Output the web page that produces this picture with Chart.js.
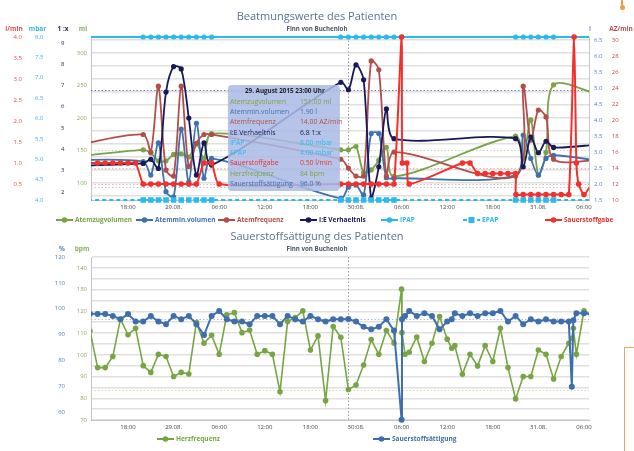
<!DOCTYPE html>
<html>
<head>
<meta charset="utf-8">
<title>Beatmungswerte des Patienten</title>
<script src="https://cdn.jsdelivr.net/npm/chart.js@4.4.1/dist/chart.umd.min.js"></script>
<style>
    body { margin: 0; background: #fff; }
    #wrap { position: relative; width: 634px; height: 451px; overflow: hidden; }
    canvas { position: absolute; left: 0; }
    #vent_chart { top: 0; }
    #sat_chart { top: 225px; }
    .deco_pin { position: absolute; left: 621px; top: 0; width: 1.5px; height: 6px; background: #f29a4a; }
    .deco_dot { position: absolute; left: 619.5px; top: 4.5px; width: 5px; height: 5px; border-radius: 50%; background: #f29a4a; }
    .deco_box { position: absolute; left: 624px; top: 347px; width: 40px; height: 140px; border: 1px solid #f2a560; }
</style>
</head>
<body>
<div id="wrap">
    <canvas id="vent_chart" width="634" height="225"></canvas>
    <canvas id="sat_chart" width="634" height="226"></canvas>
    <div class="deco_pin"></div>
    <div class="deco_dot"></div>
    <div class="deco_box"></div>
</div>
<script>
// Time axis: hours counted from 28.08.2015 00:00
var xMin = 13.13;
var xMax = 78.66;
var xTickHours = [18, 24, 30, 36, 42, 48, 54, 60, 66, 72, 78];
var xTickLabels = ["18:00", "29.08.", "06:00", "12:00", "18:00", "30:08.", "06:00", "12:00", "18:00", "31.08.", "06:00"];
var hoverHour = 47;

// Beatmungswerte
var ventHours = [10, 20, 21, 22, 23, 24, 25, 26, 27, 28, 29, 46, 47, 48, 49, 50, 51, 52, 53, 69, 70, 71, 72, 73, 74, 80];
var atemzugvolumen = [139, 151, 146, 134, 134, 144, 145, 140, 160, 138, 176, 151, 151, 156, 116, 120, 135, 155, 110, 172, 139, 197, 112, 147, 251, 236];
var atemminvolumen = [2.75, 2.7, 2.28, 3.29, 1.76, 1.6, 3.72, 2.07, 3.9, 2.18, 2.8, 1.55, 1.9, 1.97, 1.66, 3.58, 3.58, 2.2, 2.18, 2.28, 3.53, 2.8, 2.28, 2.8, 2.9, 2.73];
var atemfrequenz = [16.6, 18.2, 16.0, 24.25, 13.75, 13.0, 24.25, 14.2, 17.1, 18.2, 18.2, 15.1, 14.0, 13.0, 13.0, 27.4, 26.3, 13.0, 16.0, 13.0, 24.25, 17.5, 21.25, 20.4, 15.1, 15.0];
var ieVerhaeltnis = [3.22, 3.34, 3.53, 3.1, 6.69, 7.89, 7.78, 5.47, 2.79, 4.3, 3.26, 7.15, 6.8, 7.97, 7.27, 1.7, 3.18, 5.9, 4.5, 4.5, 3.18, 4.58, 3.84, 4.38, 4.09, 4.23];
var ipap = [8, 8, 8, 8, 8, 8, 8, 8, 8, 8, 8, 8, 8, 8, 8, 8, 8, 8, 8, 8, 8, 8, 8, 8, 8, 8];
var epap = [4, 4, 4, 4, 4, 4, 4, 4, 4, 4, 4, 4, 4, 4, 4, 4, 4, 4, 4, 4, 4, 4, 4, 4, 4, 4];
var o2Hours = [10, 14, 15, 16, 17, 18, 19, 20, 21, 22, 23, 24, 25, 26, 27, 28, 29, 30, 46, 47, 48, 49, 50, 51, 52, 53, 54, 54.1, 54.7, 55, 62, 63, 64, 65, 66, 67, 68, 69, 69.05, 70, 71, 72, 73, 74, 75, 76, 76.7, 77, 77.3, 78, 79];
var sauerstoffgabe = [1, 1, 1, 1, 1, 1, 1, 0.5, 0.5, 0.5, 0.5, 0.5, 0.5, 0.5, 0.5, 1, 1, 0.5, 0.5, 0.5, 0.5, 0.5, 0.5, 0.5, 0.5, 0.5, 4, 1, 1, 0.5, 1, 1, 0.75, 0.75, 0.75, 0.75, 0.75, 0.75, 0.25, 0.25, 0.25, 0.25, 0.25, 0.25, 0.25, 0.25, 4, 1, 0.5, 0.25, 0.5];

// Sauerstoffsaettigung
var satHours = [13, 14, 15, 16, 17, 18, 19, 20, 21, 22, 23, 24, 25, 26, 27, 28, 29, 30, 31, 32, 33, 34, 35, 36, 37, 38, 39, 40, 41, 42, 43, 44, 45, 46, 47, 48, 49, 50, 51, 52, 53, 54, 54.05, 54.45, 55, 56, 57, 58, 59, 60, 60.6, 61, 62, 63, 64, 65, 66, 67, 68, 69, 70, 71, 72, 73, 74, 75, 76, 76.4, 76.6, 77, 78, 79];
var sauerstoffsaettigung = [98, 97.9, 97.9, 97.2, 95.9, 97.9, 95.0, 95.0, 97.2, 95.0, 94.0, 97.2, 95.9, 97.2, 94.0, 89.8, 97.2, 99.1, 95.9, 95.0, 95.0, 94.0, 97.2, 97.2, 97.2, 94.0, 97.2, 95.9, 95.0, 97.2, 95.9, 95.0, 95.9, 95.9, 96.0, 95.0, 93.0, 92.0, 93.0, 95.9, 91.5, 57, 95.9, 97.2, 99.1, 97.2, 98.2, 97.2, 92.0, 95.0, 95.9, 98.2, 97.2, 98.2, 97.2, 98.2, 98.2, 99.1, 95.0, 97.2, 94.0, 95.9, 95.0, 95.9, 95.0, 95.0, 95.0, 69.8, 95.5, 98.2, 98.2, 97.8];
var herzfrequenz = [111, 94.1, 94.1, 99.2, 116.4, 109.2, 112.2, 95.0, 91.9, 100.2, 99.2, 90.0, 91.9, 91.2, 115, 105.3, 109, 100.2, 118.4, 119.4, 110.2, 111.4, 100.2, 101.9, 100.2, 83.0, 115.3, 117.1, 120.2, 102.2, 108.7, 78.9, 113, 108.1, 84, 86.1, 95.3, 107.0, 100.2, 111.2, 105.4, 130.2, 110.2, 100.2, 101.2, 108.2, 96.9, 105.3, 117.6, 107.2, 103.0, 104.2, 91.0, 100.2, 94.9, 104.2, 96.9, 112.2, 94.1, 79.7, 90.0, 90.0, 102.2, 100.2, 88.9, 99.2, 105.3, 107.6, 112.2, 100.2, 120.2, 118.7];

// Axis ticks
var lminTicks = [0.5, 1.0, 1.5, 2.0, 2.5, 3.0, 3.5, 4.0];
var mbarTicks = [4.0, 4.5, 5.0, 5.5, 6.0, 6.5, 7.0, 7.5, 8.0];
var ratioTicks = [2, 3, 4, 5, 6, 7, 8, 9];
var mlTicks = [80, 100, 120, 140, 150, 160, 180, 200, 220, 240, 250, 260, 280, 300, 320];
var lTicks = [1.5, 2.0, 2.5, 3.0, 3.5, 4.0, 4.5, 5.0, 5.5, 6.0, 6.5];
var azTicks = [10, 12, 14, 16, 18, 20, 22, 24, 26, 28, 30];
var pctTicks = [60, 70, 80, 90, 100, 110, 120];
var bpmTicks = [70, 75, 80, 85, 90, 95, 100, 105, 110, 115, 120, 125, 130, 135, 140, 145];

// Tooltip at 29.08. 23:00
var tooltipTitle = "29. August 2015 23:00 Uhr";
var tooltipLabels = ["Atemzugvolumen", "Atemmin.volumen", "Atemfrequenz", "I:E Verhaeltnis", "IPAP", "EPAP", "Sauerstoffgabe", "Herzfrequenz", "Sauerstoffsättigung"];
var tooltipValues = [151, 1.9, 14, 6.8, 8, 4, 0.5, 84, 96];
var tooltipDecimals = [2, 2, 2, 1, 2, 2, 2, 0, 1];
var tooltipUnits = ["ml", "l", "AZ/min", "1:x", "mbar", "mbar", "l/min", "bpm", "%"];

var COL = {
    green: "#7aa347",
    blue: "#3f72ad",
    brown: "#b24e4a",
    navy: "#17195a",
    cyan: "#2bb9ee",
    red: "#f2302c"
};
var tooltipColors = [COL.green, COL.blue, COL.brown, COL.navy, COL.cyan, COL.cyan, COL.red, COL.green, COL.blue];

var FONT = '"Open Sans", "DejaVu Sans", sans-serif';
Chart.defaults.font.family = FONT;
Chart.defaults.font.size = 6;
Chart.defaults.color = "#444";

function points(hours, values) {
    return hours.map(function (h, i) {
        return { x: h, y: values[i] };
    });
}

function fixedTicks(list) {
    return function (axis) {
        axis.ticks = list.map(function (v) { return { value: v }; });
    };
}

function fixedWidth(w) {
    return function (axis) { axis.width = w; };
}

function xTickLabel(v) {
    var i = xTickHours.indexOf(v);
    return i < 0 ? "" : xTickLabels[i];
}

function yAxis(pos, weight, min, max, list, color, width, padding, fmt) {
    return {
        position: pos,
        weight: weight,
        min: min,
        max: max,
        afterBuildTicks: fixedTicks(list),
        afterFit: fixedWidth(width),
        grid: { display: false, drawTicks: false },
        border: { display: false },
        ticks: {
            color: color,
            padding: padding,
            autoSkip: false,
            font: { size: 6 },
            callback: fmt || function (v) { return v; }
        }
    };
}

function xAxis() {
    return {
        type: "linear",
        min: xMin,
        max: xMax,
        afterBuildTicks: fixedTicks(xTickHours),
        afterFit: function (axis) { axis.height = 12; },
        grid: { display: false, drawTicks: false },
        border: { display: true, color: "#c4c4c4" },
        ticks: {
            color: "#444",
            padding: 4,
            maxRotation: 0,
            autoSkip: false,
            font: { size: 6 },
            callback: xTickLabel
        }
    };
}

function oneDecimal(v) { return v.toFixed(1); }

var CLIP = { left: 0, top: 6, right: 0, bottom: 6 };

// Titles, subtitles and axis titles
var headerPlugin = {
    id: "header",
    afterDraw: function (chart, args, opts) {
        var ctx = chart.ctx;
        var cx = chart.width / 2;
        ctx.save();
        ctx.textAlign = "center";
        ctx.textBaseline = "middle";
        ctx.fillStyle = "#5a7391";
        ctx.font = "11px " + FONT;
        ctx.fillText(opts.title, cx, opts.titleY);
        ctx.fillStyle = "#4a5566";
        ctx.font = "bold 6.2px " + FONT;
        ctx.fillText(opts.subtitle, cx, opts.subY);
        ctx.font = "bold 6.5px " + FONT;
        opts.axisTitles.forEach(function (t) {
            ctx.fillStyle = t.color;
            ctx.fillText(t.text, t.x, opts.subY);
        });
        ctx.restore();
    }
};

// Legend with fixed item positions
var itemLegend = {
    id: "itemLegend",
    afterDraw: function (chart, args, opts) {
        var ctx = chart.ctx;
        ctx.save();
        ctx.font = "bold 6.5px " + FONT;
        ctx.textBaseline = "middle";
        ctx.textAlign = "left";
        chart.data.datasets.forEach(function (ds, i) {
            var x = opts.x[i];
            var y = opts.y;
            ctx.strokeStyle = ds.borderColor;
            ctx.lineWidth = 2;
            ctx.setLineDash(ds.borderDash || []);
            ctx.beginPath();
            ctx.moveTo(x, y);
            ctx.lineTo(x + 17, y);
            ctx.stroke();
            ctx.setLineDash([]);
            ctx.fillStyle = ds.borderColor;
            if (ds.pointStyle === "rect") {
                ctx.fillRect(x + 5.5, y - 3, 6, 6);
            } else {
                ctx.beginPath();
                ctx.arc(x + 8.5, y, 2.8, 0, Math.PI * 2);
                ctx.fill();
            }
            ctx.fillText(ds.label, x + 19, y);
        });
        ctx.restore();
    }
};

// Dotted crosshair at the hovered point
var crosshairPlugin = {
    id: "crosshair",
    beforeDatasetsDraw: function (chart, args, opts) {
        var ctx = chart.ctx;
        var a = chart.chartArea;
        var x = chart.scales.x.getPixelForValue(hoverHour);
        ctx.save();
        ctx.lineWidth = 1;
        ctx.setLineDash([1.5, 2]);
        opts.lines.forEach(function (l) {
            var y = Math.round(chart.scales[l.axis].getPixelForValue(l.value)) + 0.5;
            ctx.strokeStyle = l.color;
            ctx.beginPath();
            ctx.moveTo(a.left, y);
            ctx.lineTo(a.right, y);
            ctx.stroke();
        });
        ctx.strokeStyle = "#9a9a9a";
        ctx.beginPath();
        ctx.moveTo(Math.round(x) + 0.5, a.top);
        ctx.lineTo(Math.round(x) + 0.5, a.bottom);
        ctx.stroke();
        ctx.restore();
    }
};

// Shared tooltip box
var tooltipPlugin = {
    id: "fixedTooltip",
    afterDraw: function (chart) {
        var ctx = chart.ctx;
        var right = chart.scales.x.getPixelForValue(hoverHour) - 8.5;
        var w = 112, h = 106, top = 85;
        var left = right - w;
        var r = 4;
        ctx.save();
        ctx.fillStyle = "rgba(170, 186, 229, 0.86)";
        ctx.beginPath();
        ctx.moveTo(left + r, top);
        ctx.lineTo(right - r, top);
        ctx.quadraticCurveTo(right, top, right, top + r);
        ctx.lineTo(right, top + h - r);
        ctx.quadraticCurveTo(right, top + h, right - r, top + h);
        ctx.lineTo(left + r, top + h);
        ctx.quadraticCurveTo(left, top + h, left, top + h - r);
        ctx.lineTo(left, top + r);
        ctx.quadraticCurveTo(left, top, left + r, top);
        ctx.fill();
        ctx.textBaseline = "middle";
        ctx.textAlign = "center";
        ctx.fillStyle = "#1e1e1e";
        ctx.font = "bold 6.3px " + FONT;
        ctx.fillText(tooltipTitle, left + w / 2 + 1, top + 6.5);
        ctx.font = "6.9px " + FONT;
        tooltipLabels.forEach(function (label, i) {
            var y = top + 16.7 + i * 10.3;
            ctx.fillStyle = tooltipColors[i];
            ctx.textAlign = "left";
            ctx.fillText(label, left + 2, y);
            ctx.fillText(tooltipValues[i].toFixed(tooltipDecimals[i]) + " " + tooltipUnits[i], left + 72, y);
        });
        ctx.restore();
    }
};

function lineSet(label, hours, values, axis, color, order, extra) {
    var ds = {
        label: label,
        data: points(hours, values),
        yAxisID: axis,
        borderColor: color,
        backgroundColor: color,
        borderWidth: 1.8,
        pointRadius: 2.6,
        pointHoverRadius: 2.6,
        pointBorderWidth: 0,
        tension: 0.3,
        clip: CLIP,
        order: order
    };
    for (var k in extra) { ds[k] = extra[k]; }
    return ds;
}

var ventChart = new Chart(document.getElementById("vent_chart"), {
    type: "line",
    data: {
        datasets: [
            lineSet("Atemzugvolumen", ventHours, atemzugvolumen, "yMl", COL.green, 6),
            lineSet("Atemmin.volumen", ventHours, atemminvolumen, "yL", COL.blue, 5),
            lineSet("Atemfrequenz", ventHours, atemfrequenz, "yAz", COL.brown, 4),
            lineSet("I:E Verhaeltnis", ventHours, ieVerhaeltnis, "yRatio", COL.navy, 3),
            lineSet("IPAP", ventHours, ipap, "yMbar", COL.cyan, 2, { borderWidth: 2 }),
            lineSet("EPAP", ventHours, epap, "yMbar", COL.cyan, 1, { borderDash: [4, 3], pointStyle: "rect", pointRadius: 3.9, pointHoverRadius: 3.9 }),
            lineSet("Sauerstoffgabe", o2Hours, sauerstoffgabe, "yLmin", COL.red, 0, { borderWidth: 2, pointRadius: 2.8, tension: 0.2 })
        ]
    },
    options: {
        responsive: false,
        animation: false,
        devicePixelRatio: 1,
        events: [],
        layout: { padding: { top: 37, bottom: 13, left: 0, right: 0 } },
        scales: {
            x: xAxis(),
            yMl: {
                position: "left",
                weight: 0,
                min: 73.8,
                max: 324.6,
                afterBuildTicks: fixedTicks(mlTicks),
                afterFit: fixedWidth(21),
                grid: {
                    drawTicks: false,
                    lineWidth: 1.5,
                    color: function (c) {
                        return c.tick && c.tick.value % 20 === 0 ? "#e0e0e0" : "rgba(0,0,0,0)";
                    }
                },
                border: { display: true, color: "#c4c4c4" },
                ticks: {
                    color: "#8fae5e",
                    padding: 4,
                    autoSkip: false,
                    font: { size: 6 },
                    callback: function (v) { return v % 50 === 0 ? v : ""; }
                }
            },
            yRatio: yAxis("left", 1, 1.62, 9.28, ratioTicks, "#2a2d60", 22, 5.5),
            yMbar: yAxis("left", 2, 4, 8, mbarTicks, "#35b6e8", 22, 4.5, oneDecimal),
            yLmin: yAxis("left", 3, 0.12, 4, lminTicks, "#e4504a", 26, 4, oneDecimal),
            yL: (function () {
                var ax = yAxis("right", 0, 1.5, 6.6, lTicks, "#5b80b5", 16, 5, oneDecimal);
                ax.border = { display: true, color: "#c4c4c4" };
                return ax;
            })(),
            yAz: yAxis("right", 1, 10, 30.4, azTicks, "#b8504e", 29, 6.7)
        },
        plugins: {
            legend: { display: false },
            tooltip: { enabled: false },
            header: {
                title: "Beatmungswerte des Patienten",
                subtitle: "Finn von Buchenloh",
                titleY: 17,
                subY: 29,
                axisTitles: [
                    { text: "l/min", x: 14, color: "#e4504a" },
                    { text: "mbar", x: 37.5, color: "#35b6e8" },
                    { text: "1 :x", x: 63, color: "#2a2d60" },
                    { text: "ml", x: 83, color: "#8fae5e" },
                    { text: "l", x: 590, color: "#7d96bb" },
                    { text: "AZ/min", x: 621, color: "#b8504e" }
                ]
            },
            itemLegend: { y: 220, x: [56, 136, 218, 300, 381, 463, 545] },
            crosshair: {
                lines: [
                    { axis: "yMl", value: tooltipValues[0], color: "#c9dca6" },
                    { axis: "yL", value: tooltipValues[1], color: "#b8cbe6" },
                    { axis: "yAz", value: tooltipValues[2], color: "#e8b8b6" },
                    { axis: "yRatio", value: tooltipValues[3], color: "#7c7cb4" },
                    { axis: "yLmin", value: tooltipValues[6], color: "#f6b3ae" }
                ]
            }
        }
    },
    plugins: [crosshairPlugin, headerPlugin, itemLegend, tooltipPlugin]
});

var satChart = new Chart(document.getElementById("sat_chart"), {
    type: "line",
    data: {
        datasets: [
            lineSet("Herzfrequenz", satHours, herzfrequenz, "yBpm", "#78a544", 1, { tension: 0, borderWidth: 1.6, pointRadius: 2.8, pointHoverRadius: 2.8 }),
            lineSet("Sauerstoffsättigung", satHours, sauerstoffsaettigung, "yPct", "#3f6fab", 0, { tension: 0, borderWidth: 2, pointRadius: 3, pointHoverRadius: 3 })
        ]
    },
    options: {
        responsive: false,
        animation: false,
        devicePixelRatio: 1,
        events: [],
        layout: { padding: { top: 32, bottom: 19, left: 0, right: 45 } },
        scales: {
            x: xAxis(),
            yBpm: {
                position: "left",
                weight: 0,
                min: 70,
                max: 145,
                afterBuildTicks: fixedTicks(bpmTicks),
                afterFit: fixedWidth(19),
                grid: { drawTicks: false, lineWidth: 1.5, color: "#e0e0e0" },
                border: { display: true, color: "#c4c4c4" },
                ticks: {
                    color: "#8fae5e",
                    padding: 4,
                    autoSkip: false,
                    font: { size: 6 },
                    callback: function (v) { return v % 10 === 0 ? v : ""; }
                }
            },
            yPct: yAxis("left", 1, 56.9, 120, pctTicks, "#5a7fb0", 72, 7)
        },
        plugins: {
            legend: { display: false },
            tooltip: { enabled: false },
            header: {
                title: "Sauerstoffsättigung des Patienten",
                subtitle: "Finn von Buchenloh",
                titleY: 12,
                subY: 24,
                axisTitles: [
                    { text: "%", x: 62, color: "#5a7fb0" },
                    { text: "bpm", x: 82, color: "#8fae5e" }
                ]
            },
            itemLegend: { y: 214, x: [157, 373] },
            crosshair: {
                lines: [
                    { axis: "yPct", value: tooltipValues[8], color: "#a9bfe0" },
                    { axis: "yBpm", value: tooltipValues[7], color: "#cfe0ae" }
                ]
            }
        }
    },
    plugins: [crosshairPlugin, headerPlugin, itemLegend]
});
</script>
</body>
</html>
